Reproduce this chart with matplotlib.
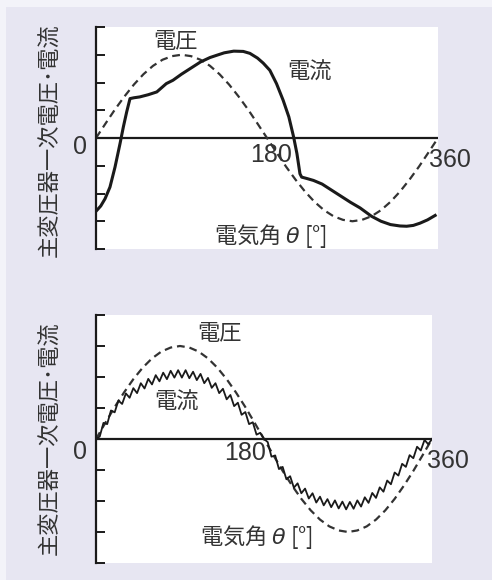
import matplotlib
matplotlib.use("Agg")
import matplotlib.pyplot as plt
from matplotlib.patches import Rectangle

plt.rcParams['font.family'] = ['Noto Sans CJK JP', 'DejaVu Sans']

W, H = 492, 580

# --- top panel: distorted current ---
volt_deg = [0, 10, 20, 30, 40, 50, 60, 70, 80, 90, 100, 110, 120, 130, 140, 150, 160, 170, 180,
            190, 200, 210, 220, 230, 240, 250, 260, 270, 280, 290, 300, 310, 320, 330, 340, 350, 360]
volt_val = [0, 0.52, 1.03, 1.5, 1.93, 2.3, 2.6, 2.82, 2.95, 3.0, 2.95, 2.82, 2.6, 2.3, 1.93, 1.5, 1.03, 0.52, 0,
            -0.52, -1.03, -1.5, -1.93, -2.3, -2.6, -2.82, -2.95, -3.0, -2.95, -2.82, -2.6, -2.3, -1.93, -1.5, -1.03, -0.52, 0]

cur1_deg = [0, 5, 9.5, 14.7, 20, 25.3, 28.8, 32.3, 35.8, 40, 46, 55, 64, 74, 81, 90, 100, 110, 120, 127,
            135, 145, 155, 162, 170, 176, 183, 190, 197, 203, 208, 211.5, 214.7, 216.5, 222, 229, 238, 248,
            258, 268, 278, 290, 300, 310, 320, 327, 334, 341, 349, 357]
cur1_val = [-2.64, -2.45, -2.19, -1.77, -1.05, -0.2, 0.4, 0.94, 1.42, 1.45, 1.48, 1.56, 1.66, 1.96, 2.08, 2.3,
            2.52, 2.74, 2.9, 2.98, 3.07, 3.13, 3.12, 3.05, 2.88, 2.7, 2.44, 1.96, 1.36, 0.76, 0.04, -0.56, -1.29,
            -1.41, -1.46, -1.53, -1.66, -1.88, -2.1, -2.32, -2.52, -2.82, -3.0, -3.12, -3.17, -3.18, -3.15,
            -3.07, -2.95, -2.79]

# --- bottom panel: current with ripple ---
cur2_deg = list(range(0, 361, 4))
cur2_val = [0, 0.08, 0.52, 0.48, 0.92, 0.86, 1.24, 1.13, 1.47, 1.33, 1.64, 1.48, 1.80, 1.63, 1.94, 1.76,
            2.06, 1.86, 2.14, 1.93, 2.20, 1.98, 2.22, 1.98, 2.22, 1.96, 2.17, 1.90, 2.10, 1.80, 1.97, 1.65,
            1.80, 1.48, 1.62, 1.28, 1.42, 1.06, 1.17, 0.78, 0.87, 0.48, 0.54, 0.14, 0.20, 0.0, -0.10, -0.57,
            -0.53, -0.97, -0.90, -1.30, -1.20, -1.57, -1.43, -1.75, -1.60, -1.92, -1.75, -2.05, -1.86, -2.14,
            -1.94, -2.20, -1.98, -2.24, -2.02, -2.27, -2.03, -2.25, -1.98, -2.18, -1.88, -2.06, -1.74, -1.90,
            -1.56, -1.70, -1.34, -1.46, -1.08, -1.18, -0.80, -0.90, -0.52, -0.62, -0.25, -0.37, -0.03, -0.17, 0]

ytick_vals = [-4, -3, -2, -1, 0, 1, 2, 3, 4]
ylabel = "主変圧器一次電圧･電流"
xlabel = "電気角 $\\theta$ [°]"
text_col = '#333333'
line_col = '#1a1a1a'


def fx(px):
    return px / W


def fy(py):
    return 1 - py / H


def setup_axes(ax):
    ax.set_xlim(0, 360)
    ax.set_ylim(-4, 4)
    for s in ['top', 'right', 'bottom']:
        ax.spines[s].set_visible(False)
    ax.spines['left'].set_linewidth(1.6)
    ax.spines['left'].set_color(line_col)
    ax.set_xticks([])
    ax.set_yticks(ytick_vals)
    ax.set_yticklabels([])
    ax.tick_params(axis='y', direction='in', length=6.5, width=1.4, color=line_col)
    ax.axhline(0, color=line_col, lw=1.6)
    ax.set_facecolor('white')


fig = plt.figure(figsize=(W / 100, H / 100), dpi=100)
fig.patch.set_facecolor('#f3f3f9')
fig.patches.append(Rectangle((fx(6), 0), 1 - fx(6), fy(7), transform=fig.transFigure,
                             facecolor='#e7e6f2', edgecolor='none', zorder=-5))

ax1 = fig.add_axes([fx(96), fy(249), fx(342), 222 / H])
setup_axes(ax1)
ax1.plot(volt_deg, volt_val, color='#333333', lw=1.6, ls=(0, (3.5, 2.2)))
ax1.plot(cur1_deg, cur1_val, color=line_col, lw=2.2, solid_joinstyle='round')

ax2 = fig.add_axes([fx(96), fy(563), fx(336), 248 / H])
setup_axes(ax2)
ax2.plot(volt_deg, volt_val, color='#333333', lw=1.6, ls=(0, (3.5, 2.2)))
ax2.plot(cur2_deg, cur2_val, color=line_col, lw=1.3)

cjk = dict(fontsize=16, color=text_col, ha='center', va='center')
num = dict(fontsize=18, color=text_col, ha='center', va='center',
           family=['Liberation Sans Narrow', 'Liberation Sans'])

# top panel labels
fig.text(fx(176), fy(42), "電圧", **cjk)
fig.text(fx(310), fy(72), "電流", **cjk)
fig.text(fx(271), fy(236), xlabel, **cjk)
fig.text(fx(80.5), fy(147), "0", **num)
fig.text(fx(271), fy(155.5), "180", **num)
fig.text(fx(450), fy(160), "360", **num)
fig.text(fx(50), fy(140.5), ylabel, rotation=90, **cjk)

# bottom panel labels
fig.text(fx(220), fy(334), "電圧", **cjk)
fig.text(fx(177), fy(402), "電流", **cjk)
fig.text(fx(256.5), fy(537), xlabel, **cjk)
fig.text(fx(80), fy(452), "0", **num)
fig.text(fx(245), fy(453.5), "180", **num)
fig.text(fx(447.5), fy(461.5), "360", **num)
fig.text(fx(50), fy(438), ylabel, rotation=90, **cjk)

fig.savefig("out.png", dpi=100, facecolor=fig.get_facecolor())
